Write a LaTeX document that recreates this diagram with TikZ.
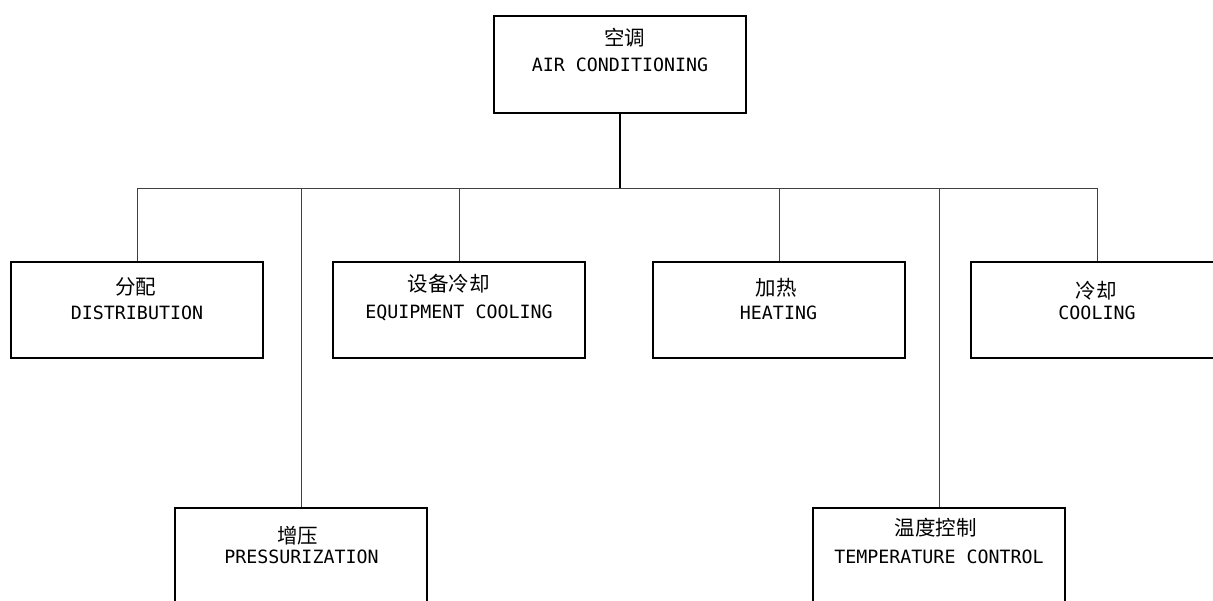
\documentclass[tikz,border=0pt]{standalone}
\usepackage{fontspec}
\newfontfamily\cjk{Noto Sans CJK SC}
\newfontfamily\en{DejaVu Sans Mono}
\begin{document}
\begin{tikzpicture}[x=1pt,y=-1pt,
  unit/.style={draw=black, line width=2.8pt, minimum width=252pt, minimum height=96pt, inner sep=0pt},
  wire/.style={draw=black!75, line width=1pt},
  trunk/.style={draw=black, line width=2pt},
  zh/.style={inner sep=0pt, font=\cjk\fontsize{20.5}{22}\selectfont},
  lat/.style={inner sep=0pt, font=\en\fontsize{18.3}{20}\selectfont}]
\useasboundingbox (0,0) rectangle (1213,600);

% boxes
\node[unit, minimum height=97pt] (ac) at (620,64.5) {};
\node[unit] (dist)  at (137,310) {};
\node[unit] (equip) at (459,310) {};
\node[unit] (heat)  at (779,310) {};
\node[unit] (cool)  at (1097,310) {};
\node[unit] (press) at (301,556) {};
\node[unit] (temp)  at (939,556) {};

% labels
\node[zh]  (ac-zh) at (624.5,38) {空调};
\node[lat] (ac-en) at (620,64.5) {AIR CONDITIONING};
\node[zh]  (dist-zh) at (135.5,287) {分配};
\node[lat] (dist-en) at (137,313) {DISTRIBUTION};
\node[zh]  (equip-zh) at (448.5,284) {设备冷却};
\node[lat] (equip-en) at (459,313) {EQUIPMENT COOLING};
\node[zh]  (heat-zh) at (776,288) {加热};
\node[lat] (heat-en) at (778.5,313) {HEATING};
\node[zh]  (cool-zh) at (1096,291) {冷却};
\node[lat] (cool-en) at (1097,313) {COOLING};
\node[zh]  (press-zh) at (297.5,536) {增压};
\node[lat] (press-en) at (301.5,557) {PRESSURIZATION};
\node[zh]  (temp-zh) at (935.5,528) {温度控制};
\node[lat] (temp-en) at (939,557) {TEMPERATURE CONTROL};

% bus
\coordinate (busL) at (137,188);
\coordinate (busR) at (1097,188);
\draw[trunk] (ac.south) -- (ac.south |- busL);
\draw[wire] (busL) -- (busR);
\foreach \n in {dist,equip,heat,cool,press,temp}
  \draw[wire] (\n.north |- busL) -- (\n.north);
\end{tikzpicture}
\end{document}
